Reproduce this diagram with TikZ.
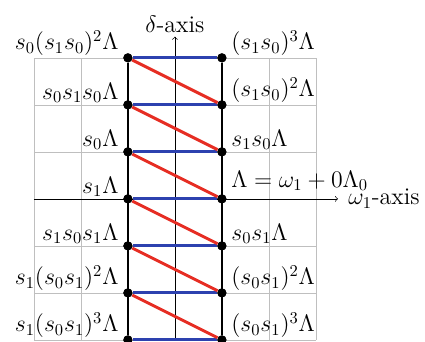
\documentclass[tikz,border=0pt]{standalone}
\definecolor{edgeblue}{RGB}{45,65,175}
\definecolor{edgered}{RGB}{230,45,35}
\begin{document}
\begin{tikzpicture}[dot/.style={circle, fill, inner sep=0pt, minimum size=5.5pt}, lbl/.style={inner sep=2pt, font=\fontsize{14.5}{17}\selectfont},
    wt/.style={lbl, inner xsep=5.5pt, inner ysep=1pt}]
    \useasboundingbox (-3.72,-3.04) rectangle (5.32,4.23);
    \draw[black!25] (-3,-3) grid (3,3);
    \coordinate (wl) at (-3,0); \coordinate (wr) at (3.47,0); \coordinate (db) at (0,-3); \coordinate (dt) at (0,3.45);
    \draw[->] (wl) -- (wr) node[lbl, right, inner xsep=6pt, inner ysep=0pt] (wlab) {$\omega_1$-axis};
    \draw[->] (db) -- (dt) node[lbl, above] (dlab) {$\delta$-axis};
    \foreach \i in {0,...,6} {\node[dot] (l\i) at (-1,\i-3) {}; \node[dot] (r\i) at (1,\i-3) {};}
    \foreach \i in {0,...,6} \draw[edgeblue, line width=1.8pt] (l\i) -- (r\i);
    \foreach \i [evaluate=\i as \j using int(\i-1)] in {1,...,6} \draw[edgered, line width=1.8pt] (l\i) -- (r\j);
    \draw[line width=1.2pt] (l0) -- (l6) (r0) -- (r6);
    \foreach \i in {0,...,6} {\node[dot] at (l\i) {}; \node[dot] at (r\i) {};}
    % labels on the left
    \node[wt, anchor=south east] (a6) at (l6) {$s_0(s_1s_0)^2\Lambda$};
    \node[wt, anchor=south east] (a5) at (l5) {$s_0s_1s_0\Lambda$};
    \node[wt, anchor=south east] (a4) at (l4) {$s_0\Lambda$};
    \node[wt, anchor=south east] (a3) at (l3) {$s_1\Lambda$};
    \node[wt, anchor=south east] (a2) at (l2) {$s_1s_0s_1\Lambda$};
    \node[wt, anchor=south east] (a1) at (l1) {$s_1(s_0s_1)^2\Lambda$};
    \node[wt, anchor=south east] (a0) at (l0) {$s_1(s_0s_1)^3\Lambda$};
    % labels on the right
    \node[wt, anchor=south west] (b6) at (r6) {$(s_1s_0)^3\Lambda$};
    \node[wt, anchor=south west] (b5) at (r5) {$(s_1s_0)^2\Lambda$};
    \node[wt, anchor=south west] (b4) at (r4) {$s_1s_0\Lambda$};
    \node[wt, anchor=south west, yshift=0.13cm] (b3) at (r3) {$\Lambda=\omega_1+0\Lambda_0$};
    \node[wt, anchor=south west] (b2) at (r2) {$s_0s_1\Lambda$};
    \node[wt, anchor=south west] (b1) at (r1) {$(s_0s_1)^2\Lambda$};
    \node[wt, anchor=south west] (b0) at (r0) {$(s_0s_1)^3\Lambda$};
\end{tikzpicture}
\end{document}
